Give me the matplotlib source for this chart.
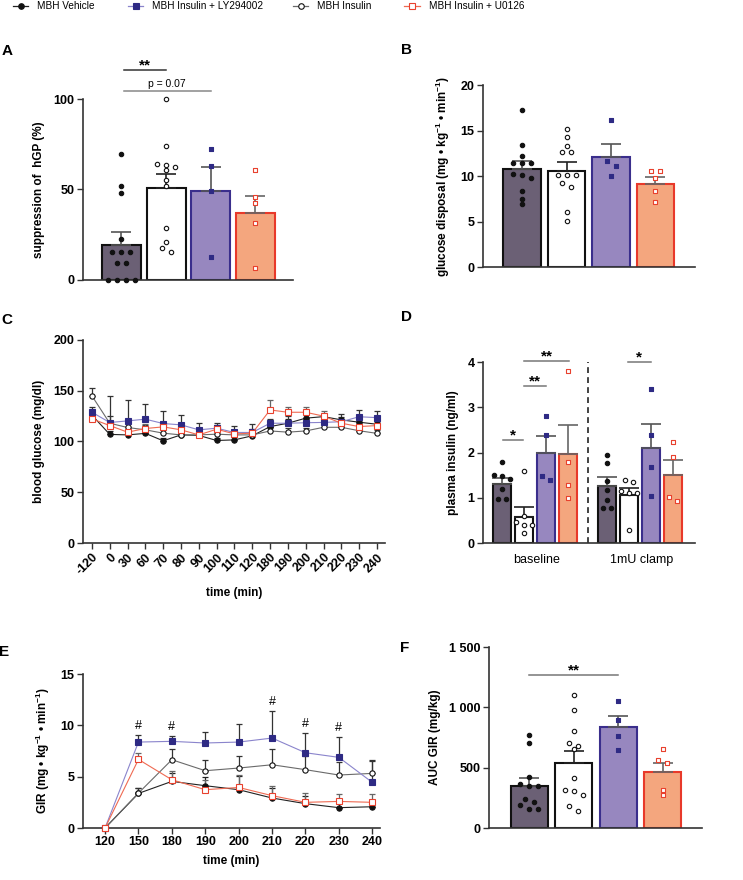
import numpy as np
import matplotlib
matplotlib.use('Agg')
import matplotlib.pyplot as plt
from matplotlib.lines import Line2D
from matplotlib.ticker import FuncFormatter

plt.rcParams['font.family'] = ['Liberation Sans', 'DejaVu Sans']
plt.rcParams['mathtext.fontset'] = 'custom'
plt.rcParams['mathtext.rm'] = 'Liberation Sans'
plt.rcParams['mathtext.bf'] = 'Liberation Sans:bold'
plt.rcParams['mathtext.default'] = 'bf'

W, H = 743, 880

# ---------------- data ----------------
legend_names = ['MBH Vehicle', 'MBH Insulin + LY294002', 'MBH Insulin', 'MBH Insulin + U0126']
# bar order: Vehicle, Insulin, Insulin+LY294002, Insulin+U0126

# A: suppression of hGP (%)
a_vehicle = [69.6, 51.7, 48.3, 22.7, 15.3, 15.3, 15.3, 9.2, 9.2, 0, 0, 0, 0]
a_insulin = [100, 73.8, 64.2, 63.3, 62.2, 60.9, 55.0, 52.2, 28.6, 20.8, 17.5, 15.3]
a_ly = [72.5, 63.1, 49.4, 12.9]
a_u0126 = [60.5, 45.8, 42.4, 31.5, 6.6]
a_mean = [19.6, 50.9, 49.3, 36.9]
a_sem = [7.0, 7.6, 13.2, 9.4]

# B: glucose disposal
b_vehicle = [17.3, 13.4, 12.2, 11.4, 11.4, 11.4, 10.2, 10.1, 9.8, 8.4, 7.5, 6.9]
b_insulin = [15.2, 14.3, 13.3, 12.6, 12.6, 10.1, 10.1, 10.1, 9.2, 8.8, 6.0, 5.1]
b_ly = [16.2, 11.6, 11.1, 10.0]
b_u0126 = [10.5, 10.5, 9.8, 8.4, 7.1]
b_mean = [10.72, 10.57, 12.1, 9.14]
b_sem = [0.95, 0.95, 1.4, 0.76]

# C: blood glucose time course
c_time = ['-120', '0', '30', '60', '70', '80', '90', '100', '110', '120',
          '180', '190', '200', '210', '220', '230', '240']
c_vehicle = [126, 107, 106.5, 108, 100.7, 106.5, 106, 101, 101.6, 105.6, 114.7, 118, 123, 124.5, 121.3, 119, 117]
c_insulin = [145, 118, 113.8, 111.5, 108.2, 106.5, 106.5, 107.2, 106.5, 106.5, 110.4, 109.2, 110.4, 114, 114, 110.6, 108]
c_ly = [128.9, 118.7, 120.3, 122, 117.7, 116.4, 111.5, 113.1, 108.9, 108.9, 118, 118, 118.5, 118.8, 119.5, 124.4, 123.5]
c_u0126 = [122.3, 115.7, 109.2, 112.8, 114.4, 111.5, 106.5, 112.1, 107.5, 108.2, 131.1, 128.8, 128.8, 125, 118, 114.7, 115.7]
c_vehicle_sem = [3, 3, 2, 2.5, 2.5, 2, 2, 2, 2.5, 2.5, 4, 4, 4, 3, 3, 3, 3]
c_insulin_sem = [8, 7, 5, 5, 4, 3, 3, 3, 3, 3, 4, 4, 3, 3, 3, 3, 3]
c_ly_sem = [5, 26, 21, 15, 12.7, 9.5, 7, 5.5, 6.5, 8, 4.5, 7, 4, 5, 7.4, 6.7, 6.5]
c_u0126_sem = [3, 4, 3, 4, 4, 4, 3, 4, 4, 4, 9.3, 5.6, 5.6, 5, 5, 4, 4]

# D: plasma insulin
d_base_vehicle = [1.80, 1.51, 1.47, 1.41, 1.19, 0.97, 0.97]
d_base_insulin = [1.59, 0.60, 0.46, 0.39, 0.39, 0.21]
d_base_ly = [2.80, 2.39, 1.49, 1.40]
d_base_u0126 = [3.81, 1.79, 1.29, 0.99]
d_base_mean = [1.30, 0.575, 2.0, 1.96]
d_base_sem = [0.14, 0.215, 0.36, 0.64]
d_clamp_vehicle = [1.94, 1.77, 1.36, 1.18, 0.96, 0.77, 0.77]
d_clamp_insulin = [1.39, 1.34, 1.16, 1.10, 1.10, 0.29]
d_clamp_ly = [3.40, 2.38, 1.67, 1.04]
d_clamp_u0126 = [2.24, 1.90, 1.01, 0.93]
d_clamp_mean = [1.27, 1.05, 2.11, 1.50]
d_clamp_sem = [0.18, 0.17, 0.52, 0.33]
d_categories = ['baseline', '1mU clamp']

# E: GIR time course
e_time = ['120', '150', '180', '190', '200', '210', '220', '230', '240']
e_vehicle = [0, 3.37, 4.54, 4.12, 3.73, 2.92, 2.37, 1.98, 2.07]
e_insulin = [0, 3.40, 6.65, 5.58, 5.84, 6.16, 5.68, 5.16, 5.32]
e_ly = [0, 8.37, 8.44, 8.28, 8.37, 8.76, 7.33, 6.88, 4.44]
e_u0126 = [0, 6.68, 4.70, 3.73, 3.95, 3.15, 2.50, 2.59, 2.50]
e_vehicle_sem = [0, 0.52, 0.81, 0.88, 1.35, 1.0, 0.71, 0.6, 0.6]
e_insulin_sem = [0, 0.5, 1.04, 1.0, 1.13, 1.49, 1.3, 1.23, 1.3]
e_ly_sem = [0, 0.65, 0.52, 1.03, 1.76, 2.6, 1.92, 1.94, 2.1]
e_u0126_sem = [0, 0.59, 0.88, 0.9, 1.17, 0.97, 0.91, 0.68, 0.77]
e_hash_times = ['150', '180', '210', '220', '230']

# F: AUC GIR
f_vehicle = [768, 707, 423, 362, 345, 345, 243, 218, 188, 160, 160]
f_insulin = [1102, 981, 807, 704, 677, 652, 412, 312, 309, 276, 180, 144]
f_ly = [1052, 892, 765, 649]
f_u0126 = [655, 566, 541, 318, 276]
f_mean = [351, 541, 837, 461]
f_sem = [66, 97, 91, 80]

# ---------------- style ----------------
FILL = ['#6b6075', '#ffffff', '#9787bf', '#f4a67e']
EDGE = ['#111111', '#111111', '#3a2e8c', '#e8392a']
MK = ['o', 'o', 's', 's']
MFC = ['#111111', 'white', '#2e2a84', 'white']
MEC = ['#111111', '#111111', '#2e2a84', '#e8412e']
LINE = ['#222222', '#6a6a6a', '#8a84cc', '#ef6a52']
ECOL_BAR = ['#555555', '#222222', '#555555', '#666666']
ECOL_LINE = ['#222222', '#333333', '#333333', '#666666']
SPINE = '#333333'
TICK_FS = 9
LAB_FS = 8.5

fig = plt.figure(figsize=(W / 100, H / 100), dpi=100)


def add_ax(l, t, r, b):
    return fig.add_axes([l / W, 1 - b / H, (r - l) / W, (b - t) / H])


def style(ax):
    for s in ['top', 'right']:
        ax.spines[s].set_visible(False)
    for s in ['left', 'bottom']:
        ax.spines[s].set_color(SPINE)
        ax.spines[s].set_linewidth(1.2)
    ax.tick_params(axis='both', length=4, width=1.0, color=SPINE,
                   labelsize=TICK_FS, pad=2)
    for lab in ax.get_yticklabels() + ax.get_xticklabels():
        lab.set_fontweight('bold')


def swarm(ax, vals, d_px=9.0, thr_px=5.0):
    vals = np.asarray(vals, float)
    bb = ax.get_window_extent()
    y0, y1 = ax.get_ylim()
    x0, x1 = ax.get_xlim()
    ppy = bb.height / (y1 - y0)
    ppx = bb.width / (x1 - x0)
    order = np.argsort(-vals, kind='stable')
    offs = np.zeros(len(vals))
    clusters = []
    for idx in order:
        if clusters and (vals[clusters[-1][0]] - vals[idx]) * ppy < thr_px:
            clusters[-1].append(idx)
        else:
            clusters.append([idx])
    for cl in clusters:
        n = len(cl)
        for k, idx in enumerate(cl):
            offs[idx] = (k - (n - 1) / 2) * d_px / ppx
    return offs


def bars(ax, xs, means, sems, pts, width, d_px=9.0):
    for i in range(4):
        ax.bar(xs[i], means[i], width=width, color=FILL[i], edgecolor=EDGE[i],
               linewidth=1.5, zorder=2)
        ax.errorbar(xs[i], means[i], yerr=[[0], [sems[i]]], fmt='none',
                    ecolor=ECOL_BAR[i], elinewidth=1.2, capsize=7, capthick=1.2,
                    zorder=3)
        offs = swarm(ax, pts[i], d_px=d_px)
        ax.scatter(np.full(len(pts[i]), xs[i]) + offs, pts[i], marker=MK[i],
                   s=10 if MK[i] == 'o' else 9, facecolor=MFC[i],
                   edgecolor=MEC[i], linewidths=0.8, zorder=4, clip_on=False)


def sig(ax, xa, xb, y, text, color='#777777', fs=10, bold=True, off=0.5):
    ax.plot([xa, xb], [y, y], color=color, lw=1.1, clip_on=False, zorder=5)
    ax.annotate(text, xy=((xa + xb) / 2, y), xytext=(0, off),
                textcoords='offset points', ha='center', va='baseline',
                fontsize=fs, fontweight='bold' if bold else 'normal',
                annotation_clip=False)


def px(x, y):
    return x / W, 1 - y / H


# ---------------- A ----------------
axA = add_ax(83, 99, 293, 280)
axA.set_xlim(-0.86, 3.84)
axA.set_ylim(0, 100)
axA.set_yticks([0, 50, 100])
axA.set_xticks([])
bars(axA, [0, 1, 2, 3], a_mean, a_sem, [a_vehicle, a_insulin, a_ly, a_u0126], 0.87)
axA.set_ylabel('suppression of  hGP (%)', fontsize=LAB_FS, fontweight='bold', labelpad=6)
style(axA)
sig(axA, 0.05, 1.0, 116, '**', color='#333333', fs=11)
sig(axA, 0.05, 2.0, 104.4, 'p = 0.07', color='#888888', fs=7.5, bold=False, off=3)

# ---------------- B ----------------
axB = add_ax(483, 85, 695, 267)
axB.set_xlim(-0.88, 3.89)
axB.set_ylim(0, 20)
axB.set_yticks([0, 5, 10, 15, 20])
axB.set_xticks([])
bars(axB, [0, 1, 2, 3], b_mean, b_sem, [b_vehicle, b_insulin, b_ly, b_u0126], 0.85)
axB.set_ylabel(r'glucose disposal (mg • kg$^{-1}$ • min$^{-1}$)', fontsize=LAB_FS,
               fontweight='bold', labelpad=6)
style(axB)

# ---------------- C ----------------
axC = add_ax(83, 340, 385, 543)
xc = np.arange(len(c_time))
c_series = [c_vehicle, c_insulin, c_ly, c_u0126]
c_sems = [c_vehicle_sem, c_insulin_sem, c_ly_sem, c_u0126_sem]
for g in [0, 1, 2, 3]:
    axC.errorbar(xc, c_series[g], yerr=[np.zeros(len(xc)), c_sems[g]], fmt='none',
                 ecolor=ECOL_LINE[g], elinewidth=0.9, capsize=2.5, capthick=0.9,
                 zorder=2)
for g in [0, 1, 2, 3]:
    axC.plot(xc, c_series[g], color=LINE[g], lw=0.8, marker=MK[g], ms=3.8,
             mfc=MFC[g], mec=MEC[g], mew=0.8, zorder=3 + g)
axC.set_xlim(-0.5, 16.45)
axC.set_ylim(0, 200)
axC.set_yticks([0, 50, 100, 150, 200])
axC.set_xticks(xc)
axC.set_xticklabels(c_time, rotation=45, ha='right', va='top', rotation_mode='anchor')
axC.set_ylabel('blood glucose (mg/dl)', fontsize=LAB_FS, fontweight='bold', labelpad=6)
axC.set_xlabel('time (min)', fontsize=LAB_FS, fontweight='bold', labelpad=7)
style(axC)

# ---------------- D ----------------
axD = add_ax(483, 362, 695, 543)
axD.set_xlim(-0.88, 8.76)
axD.set_ylim(0, 4)
axD.set_yticks([0, 1, 2, 3, 4])
xb = [0, 1, 2, 3]
xcl = [4.77, 5.77, 6.77, 7.77]
bars(axD, xb, d_base_mean, d_base_sem,
     [d_base_vehicle, d_base_insulin, d_base_ly, d_base_u0126], 0.82, d_px=8.0)
bars(axD, xcl, d_clamp_mean, d_clamp_sem,
     [d_clamp_vehicle, d_clamp_insulin, d_clamp_ly, d_clamp_u0126], 0.82, d_px=8.0)
axD.plot([3.9, 3.9], [0, 4], color='#222222', lw=1.2, ls=(0, (3.5, 2.5)), zorder=1)
axD.set_xticks([1.55, 6.35])
axD.set_xticklabels(d_categories)
axD.set_ylabel('plasma insulin (ng/ml)', fontsize=LAB_FS, fontweight='bold', labelpad=6)
style(axD)
axD.tick_params(axis='x', length=0, pad=8)
for lab in axD.get_xticklabels():
    lab.set_fontweight('normal')
    lab.set_fontsize(9)
sig(axD, 0.05, 0.95, 2.28, '*', fs=11)
sig(axD, 1.0, 2.0, 3.46, '**', fs=11)
sig(axD, 1.0, 3.05, 4.02, '**', fs=11)
sig(axD, 5.7, 6.75, 4.0, '*', fs=11)

# ---------------- E ----------------
axE = add_ax(83, 674, 380, 828)
xe = np.arange(len(e_time))
e_series = [e_vehicle, e_insulin, e_ly, e_u0126]
e_sems = [e_vehicle_sem, e_insulin_sem, e_ly_sem, e_u0126_sem]
for g in [0, 1, 2, 3]:
    axE.errorbar(xe, e_series[g], yerr=[np.zeros(len(xe)), e_sems[g]], fmt='none',
                 ecolor=ECOL_LINE[g], elinewidth=0.9, capsize=2.5, capthick=0.9,
                 zorder=2)
for g in [0, 1, 2, 3]:
    axE.plot(xe, e_series[g], color=LINE[g], lw=0.8, marker=MK[g], ms=3.8,
             mfc=MFC[g], mec=MEC[g], mew=0.8, zorder=3 + g, clip_on=False)
for t in e_hash_times:
    i = e_time.index(t)
    axE.text(xe[i], e_ly[i] + e_ly_sem[i] + 0.9, '#', ha='center', va='center',
             fontsize=9)
axE.set_xlim(-0.66, 8.23)
axE.set_ylim(0, 15)
axE.set_yticks([0, 5, 10, 15])
axE.set_xticks(xe)
axE.set_xticklabels(e_time)
axE.set_ylabel(r'GIR (mg • kg$^{-1}$ • min$^{-1}$)', fontsize=LAB_FS, fontweight='bold',
               labelpad=6)
axE.set_xlabel('time (min)', fontsize=LAB_FS, fontweight='bold', labelpad=5)
style(axE)

# ---------------- F ----------------
axF = add_ax(489, 647, 702, 828)
axF.set_xlim(-0.91, 3.88)
axF.set_ylim(0, 1500)
axF.set_yticks([0, 500, 1000, 1500])
axF.yaxis.set_major_formatter(FuncFormatter(lambda v, p: f'{v:,.0f}'.replace(',', ' ')))
axF.set_xticks([])
bars(axF, [0, 1, 2, 3], f_mean, f_sem, [f_vehicle, f_insulin, f_ly, f_u0126], 0.83)
axF.set_ylabel('AUC GIR (mg/kg)', fontsize=LAB_FS, fontweight='bold', labelpad=6)
style(axF)
sig(axF, 0.0, 2.0, 1270, '**', fs=11)

# ---------------- panel letters ----------------
for letter, (x, y) in zip('ABCDEF', [(7, 51), (407, 50), (7, 320), (407, 317), (4, 652), (405, 648)]):
    fx, fy = px(x, y)
    fig.text(fx, fy, letter, ha='center', va='center', fontsize=11, fontweight='bold')

# ---------------- legend (top) ----------------
leg_groups = [0, 2, 1, 3]  # vehicle, LY, insulin, U0126 in legend order
leg_pos = [(13, 28, 37), (128, 143, 152), (293, 308, 317), (404, 420, 429)]
ly_ = 6
for name, g, (xa, xb2, xt) in zip(legend_names, leg_groups, leg_pos):
    (fa, fy), (fb, _) = px(xa, ly_), px(xb2, ly_)
    fig.add_artist(Line2D([fa, fb], [fy, fy], transform=fig.transFigure, color=LINE[g],
                          lw=0.9))
    fm, _ = px((xa + xb2) / 2, ly_)
    fig.add_artist(Line2D([fm], [fy], transform=fig.transFigure, marker=MK[g], ms=4.0,
                          mfc=MFC[g], mec=MEC[g], mew=0.8, ls='none'))
    ftx, _ = px(xt, ly_)
    fig.text(ftx, fy, name, ha='left', va='center', fontsize=7.2)

fig.savefig('out.png', dpi=100)
